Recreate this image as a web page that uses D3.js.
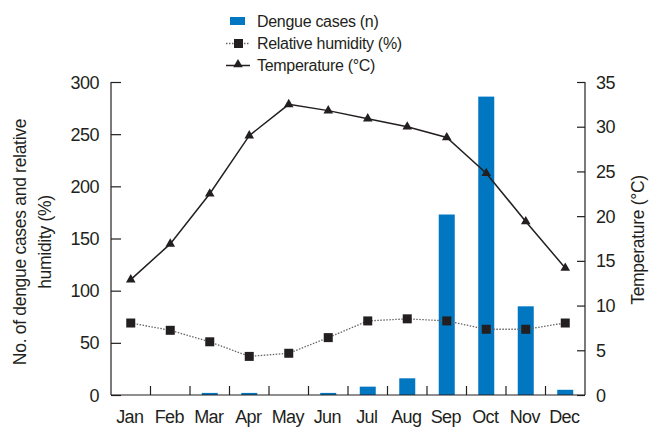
<!DOCTYPE html>
<html><head><meta charset="utf-8">
<script src="https://cdn.jsdelivr.net/npm/d3@7"></script>
<style>body{margin:0;background:#fff}svg{display:block}text{font-family:"Liberation Sans",Arial,sans-serif;fill:#231f20}</style>
</head><body><svg id="c" width="649" height="427"></svg>
<script>
const months = ["Jan","Feb","Mar","Apr","May","Jun","Jul","Aug","Sep","Oct","Nov","Dec"];
const dengue = [0,0,2,2,0,2,8,16,173,286,85,5];
const humidity = [69,62,51,37,40,55,71,73,71,63,63,69];
const temperature = [12.9,16.9,22.5,29.0,32.5,31.8,30.9,30.0,28.8,24.8,19.4,14.2];
const leftTicks = [0,50,100,150,200,250,300];
const rightTicks = [0,5,10,15,20,25,30,35];

const svg = d3.select("#c");
const L = 111, R = 585, T = 82, B = 395;
const ink = "#231f20";
const xb = d3.scaleBand().domain(months).range([L,R]);
const yL = d3.scaleLinear().domain([0,300]).range([B,T]);
const yR = d3.scaleLinear().domain([0,35]).range([B,T]);
const cx = (d)=> xb(d)+xb.bandwidth()/2;

// bars
svg.append("g").selectAll("rect").data(months).join("rect")
  .attr("x", d=> cx(d) - 8)
  .attr("width", 16)
  .attr("y", (d,i)=> yL(dengue[i]))
  .attr("height", (d,i)=> B - yL(dengue[i]))
  .attr("fill", "#0077c0");

// axes
const gl = svg.append("g").attr("transform",`translate(${L},0)`)
  .call(d3.axisRight(yL).tickValues(leftTicks).tickSize(10).tickFormat(""));
gl.selectAll("path,line").attr("stroke", ink).attr("stroke-width",1.2);
gl.select(".domain").attr("d",`M0,${T}V${B}`);
svg.append("g").selectAll("text").data(leftTicks).join("text")
  .attr("x", 99).attr("y", d=>yL(d)+6.5).attr("text-anchor","end")
  .attr("font-size",18).attr("letter-spacing","-0.5").text(d=>d);

const gr = svg.append("g").attr("transform",`translate(${R},0)`)
  .call(d3.axisLeft(yR).tickValues(rightTicks).tickSize(8).tickFormat(""));
gr.selectAll("path,line").attr("stroke", ink).attr("stroke-width",1.2);
gr.select(".domain").attr("d",`M0,${T}V${B}`);
svg.append("g").selectAll("text").data(rightTicks).join("text")
  .attr("x", 596).attr("y", d=>yR(d)+6.5).attr("text-anchor","start")
  .attr("font-size",18).attr("letter-spacing","-0.5").text(d=>d);

const gx = svg.append("g").attr("transform",`translate(0,${B})`)
  .call(d3.axisBottom(xb).tickSize(0).tickFormat(""));
gx.select(".domain").attr("d",`M${L},0H${R}`).attr("stroke",ink).attr("stroke-width",1.2);
gx.selectAll(".tick").remove();
svg.append("g").selectAll("line").data(months.slice(1)).join("line")
  .attr("x1", d=>xb(d)).attr("x2", d=>xb(d)).attr("y1",B).attr("y2",B-9)
  .attr("stroke",ink).attr("stroke-width",1.2);
svg.append("g").selectAll("text").data(months).join("text")
  .attr("x", d=>cx(d)-1).attr("y", 423).attr("text-anchor","middle")
  .attr("font-size",18).attr("letter-spacing","-0.6").text(d=>d);

// humidity line
svg.append("path").datum(humidity)
  .attr("d", d3.line().x((d,i)=>cx(months[i])).y(d=>yL(d)))
  .attr("fill","none").attr("stroke","#666").attr("stroke-width",1.3).attr("stroke-dasharray","1.5,1.5");
svg.append("g").selectAll("rect").data(humidity).join("rect")
  .attr("x",(d,i)=>cx(months[i])-4.5).attr("y",d=>yL(d)-4.5).attr("width",9).attr("height",9).attr("fill",ink);

// temperature line
svg.append("path").datum(temperature)
  .attr("d", d3.line().x((d,i)=>cx(months[i])).y(d=>yR(d)))
  .attr("fill","none").attr("stroke",ink).attr("stroke-width",1.5);
const tri = d3.symbol().type(d3.symbolTriangle).size(40);
svg.append("g").selectAll("path").data(temperature).join("path")
  .attr("transform",(d,i)=>`translate(${cx(months[i])},${yR(d)})`)
  .attr("d", tri).attr("fill",ink);

// legend
const lg = svg.append("g");
lg.append("rect").attr("x",230).attr("y",17).attr("width",15).attr("height",8).attr("fill","#0077c0");
lg.append("text").attr("x",257).attr("y",27).attr("font-size",16).attr("letter-spacing","-0.3").text("Dengue cases (n)");
lg.append("line").attr("x1",226).attr("x2",250).attr("y1",43.5).attr("y2",43.5)
  .attr("stroke","#666").attr("stroke-width",1.3).attr("stroke-dasharray","1.5,1.5");
lg.append("rect").attr("x",234).attr("y",39).attr("width",9).attr("height",9).attr("fill",ink);
lg.append("text").attr("x",257).attr("y",49).attr("font-size",16).attr("letter-spacing","-0.3").text("Relative humidity (%)");
lg.append("line").attr("x1",226).attr("x2",250).attr("y1",65.5).attr("y2",65.5).attr("stroke",ink).attr("stroke-width",1.5);
lg.append("path").attr("transform","translate(238,64.5)").attr("d",tri).attr("fill",ink);
lg.append("text").attr("x",257).attr("y",71).attr("font-size",16).attr("letter-spacing","-0.3").text("Temperature (°C)");

// axis titles
const lt = svg.append("text").attr("transform","translate(0,242) rotate(-90)").attr("text-anchor","middle")
  .attr("font-size",17.5).attr("letter-spacing","-0.3");
lt.append("tspan").attr("x",0).attr("y",26).text("No. of dengue cases and relative");
lt.append("tspan").attr("x",0).attr("y",51).text("humidity (%)");
svg.append("text").attr("transform","translate(644,240) rotate(-90)").attr("text-anchor","middle")
  .attr("font-size",17.5).attr("letter-spacing","-0.3").text("Temperature (°C)");
</script></body></html>
